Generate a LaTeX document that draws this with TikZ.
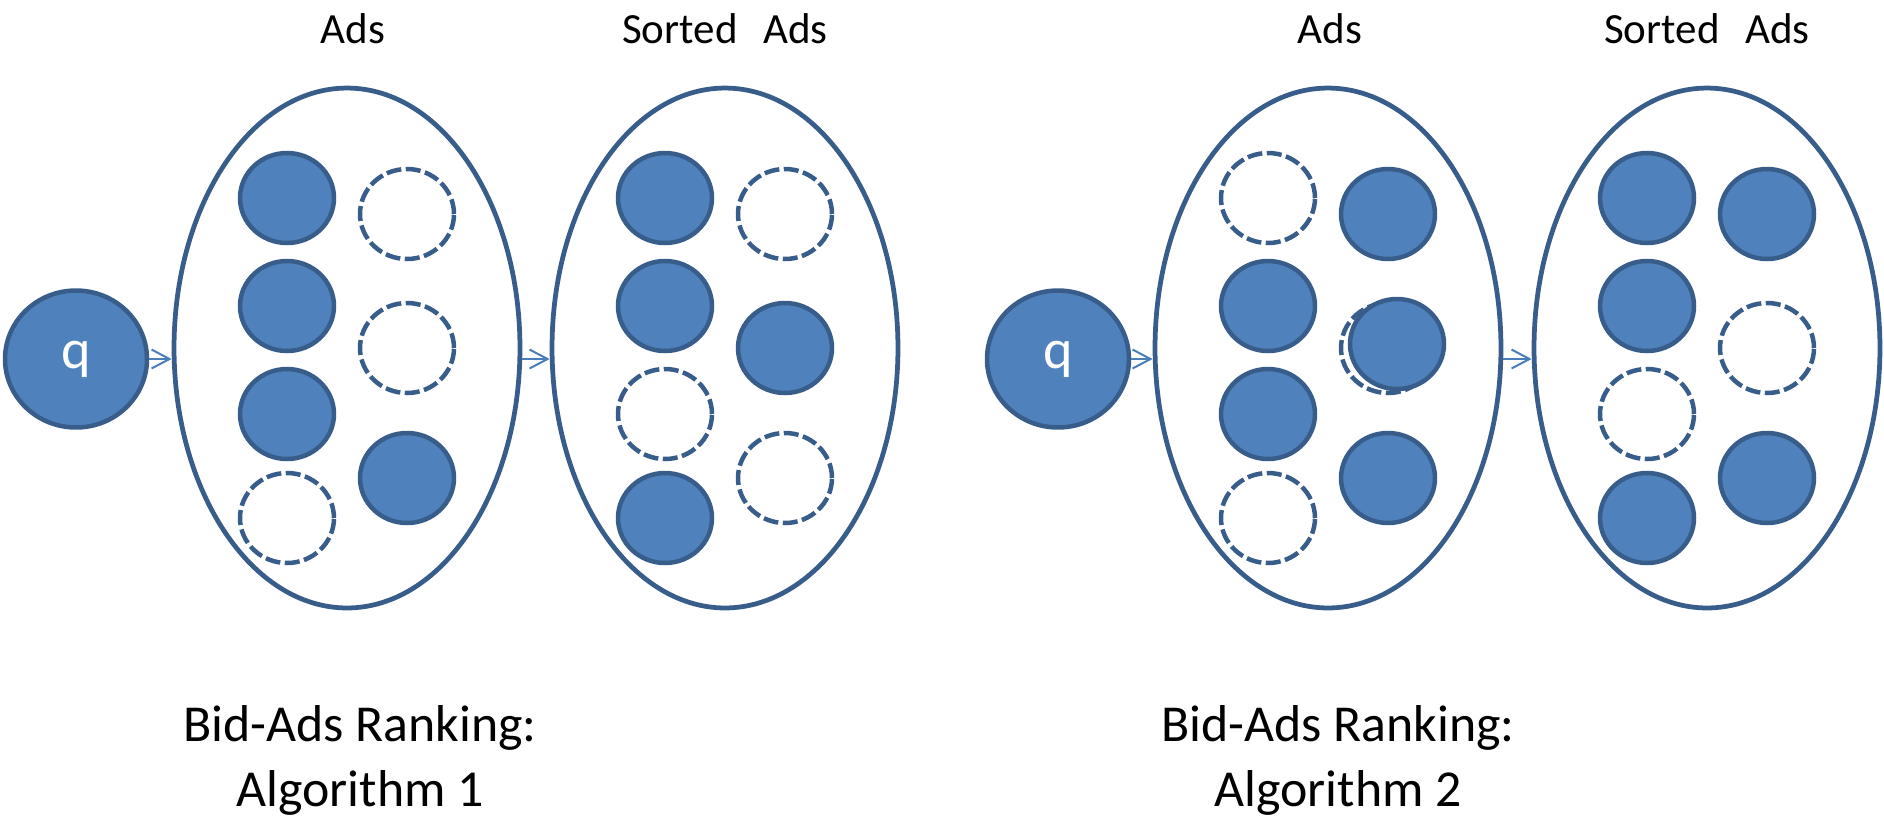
\documentclass[tikz,border=0pt]{standalone}
\usepackage{fontspec}
\setmainfont{Carlito}
\usetikzlibrary{arrows.meta, calc, shapes.geometric}
\definecolor{adfill}{HTML}{4F81BD}
\definecolor{adline}{HTML}{385D8A}
\definecolor{flowblue}{HTML}{4A7EBB}

\begin{document}
\begin{tikzpicture}[
x=0.02cm, y=-0.02cm,
texts/.style = {text=black, inner sep=0pt},
pooltexts/.style = {texts, font=\fontsize{24.5}{30}\selectfont},
titletexts/.style = {texts, font=\fontsize{29.5}{37.2}\selectfont, align=center},
pool/.style = {ellipse, draw=adline, line width=0.095cm, minimum width=6.92cm, minimum height=10.4cm, inner sep=0pt},
adnode/.style = {ellipse, draw=adline, line width=0.09cm, minimum width=1.88cm, minimum height=1.8cm, inner sep=0pt},
fullad/.style = {adnode, fill=adfill},
emptyad/.style = {adnode, dash pattern=on 0.3cm off 0.09cm},
query/.style = {ellipse, draw=adline, fill=adfill, line width=0.09cm, minimum width=2.84cm, minimum height=2.74cm, inner sep=0pt, text=white, font=\fontsize{32}{38}\selectfont},
flow/.style = {draw=flowblue, line width=0.04cm, -{Straight Barb[length=0.36cm, width=0.38cm]}}
]
\useasboundingbox (0,0) rectangle (1884,826);

% algorithm 1
\node[query] (q1) at (76,359) {q};
\node[pool] (ads1) at (347,348) {};
\node[pool] (sorted1) at (725,348) {};
\node[pooltexts, anchor=base] at (353,43) {Ads};
\node[pooltexts, anchor=base] at (725,43) {Sorted\hspace{0.6em}Ads};

\node[fullad] (a1l1) at ($(ads1)+(-60,-150)$) {};
\node[fullad] (a1l2) at ($(ads1)+(-60,-42)$) {};
\node[fullad] (a1l3) at ($(ads1)+(-60,66)$) {};
\node[emptyad] (a1l4) at ($(ads1)+(-60,170)$) {};
\node[emptyad] (a1r1) at ($(ads1)+(60,-134)$) {};
\node[emptyad] (a1r2) at ($(ads1)+(60,0)$) {};
\node[fullad] (a1r3) at ($(ads1)+(60,130)$) {};

\node[fullad] (s1l1) at ($(sorted1)+(-60,-150)$) {};
\node[fullad] (s1l2) at ($(sorted1)+(-60,-42)$) {};
\node[emptyad] (s1l3) at ($(sorted1)+(-60,66)$) {};
\node[fullad] (s1l4) at ($(sorted1)+(-60,170)$) {};
\node[emptyad] (s1r1) at ($(sorted1)+(60,-134)$) {};
\node[fullad] (s1r2) at ($(sorted1)+(60,0)$) {};
\node[emptyad] (s1r3) at ($(sorted1)+(60,130)$) {};

\draw[flow] (q1) -- (q1 -| ads1.west);
\draw[flow] (ads1.east |- q1) -- (sorted1.west |- q1);
\node[titletexts, anchor=north] at (360,705) {Bid-Ads Ranking:\\Algorithm 1};

% algorithm 2
\node[query] (q2) at (1058,359) {q};
\node[pool] (ads2) at (1328,348) {};
\node[pool] (sorted2) at (1707,348) {};
\node[pooltexts, anchor=base] at (1330,43) {Ads};
\node[pooltexts, anchor=base] at (1707,43) {Sorted\hspace{0.6em}Ads};

\node[emptyad] (a2l1) at ($(ads2)+(-60,-150)$) {};
\node[fullad] (a2l2) at ($(ads2)+(-60,-42)$) {};
\node[fullad] (a2l3) at ($(ads2)+(-60,66)$) {};
\node[emptyad] (a2l4) at ($(ads2)+(-60,170)$) {};
\node[fullad] (a2r1) at ($(ads2)+(60,-134)$) {};
\node[emptyad] (a2r2) at ($(ads2)+(60,0)$) {};
\node[fullad] (a2r2b) at ($(ads2)+(69,-4)$) {};
\node[fullad] (a2r3) at ($(ads2)+(60,130)$) {};

\node[fullad] (s2l1) at ($(sorted2)+(-60,-150)$) {};
\node[fullad] (s2l2) at ($(sorted2)+(-60,-42)$) {};
\node[emptyad] (s2l3) at ($(sorted2)+(-60,66)$) {};
\node[fullad] (s2l4) at ($(sorted2)+(-60,170)$) {};
\node[fullad] (s2r1) at ($(sorted2)+(60,-134)$) {};
\node[emptyad] (s2r2) at ($(sorted2)+(60,0)$) {};
\node[fullad] (s2r3) at ($(sorted2)+(60,130)$) {};

\draw[flow] (q2) -- (q2 -| ads2.west);
\draw[flow] (ads2.east |- q2) -- (sorted2.west |- q2);
\node[titletexts, anchor=north] at (1338,705) {Bid-Ads Ranking:\\Algorithm 2};
\end{tikzpicture}
\end{document}
